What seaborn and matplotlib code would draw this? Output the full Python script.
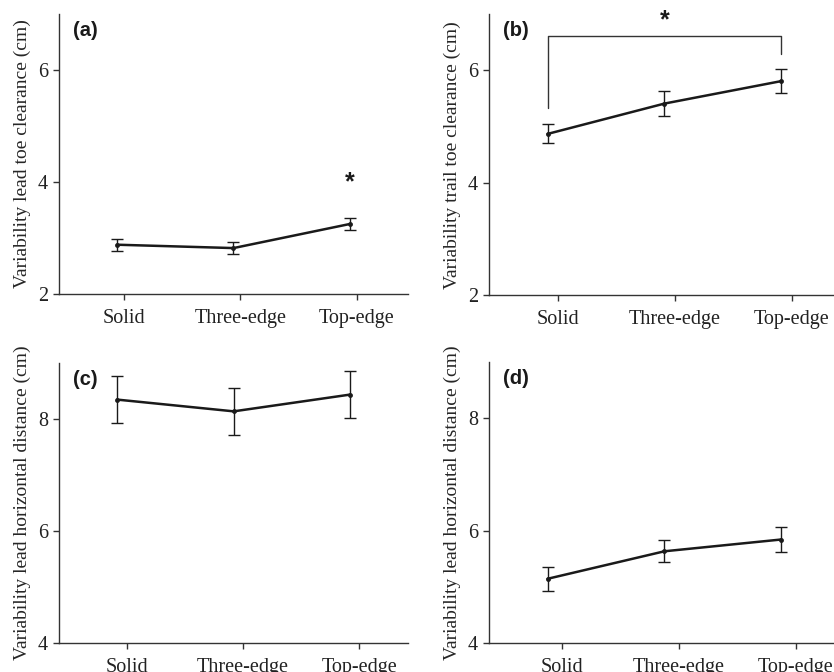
import matplotlib
matplotlib.use("Agg")
import matplotlib.pyplot as plt
import seaborn as sns
import pandas as pd
import numpy as np

conditions = ["Solid", "Three-edge", "Top-edge"]

lead_toe_mean = [2.88, 2.82, 3.25]
lead_toe_err = [0.11, 0.10, 0.11]

trail_toe_mean = [4.87, 5.41, 5.81]
trail_toe_err = [0.17, 0.22, 0.22]

lead_horiz_c_mean = [8.35, 8.14, 8.44]
lead_horiz_c_err = [0.42, 0.42, 0.42]

lead_horiz_d_mean = [5.14, 5.63, 5.84]
lead_horiz_d_err = [0.21, 0.20, 0.22]

sns.set_theme(style="ticks")
plt.rcParams["font.family"] = ["Liberation Serif", "DejaVu Serif"]

fig = plt.figure(figsize=(8.34, 6.72), dpi=100)

panels = [
    # label, mean, err, ylabel, ylim, yticks, axes rect, tick offset
    ("(a)", lead_toe_mean, lead_toe_err, "Variability lead toe clearance (cm)",
     (2, 7), [2, 4, 6], [0.0707, 0.5625, 0.4185, 0.4167], 0.06),
    ("(b)", trail_toe_mean, trail_toe_err, "Variability trail toe clearance (cm)",
     (2, 7), [2, 4, 6], [0.5867, 0.561, 0.42, 0.4177], 0.09),
    ("(c)", lead_horiz_c_mean, lead_horiz_c_err, "Variability lead horizontal distance (cm)",
     (4, 9), [4, 6, 8], [0.0707, 0.0436, 0.419, 0.4158], 0.08),
    ("(d)", lead_horiz_d_mean, lead_horiz_d_err, "Variability lead horizontal distance (cm)",
     (4, 9), [4, 6, 8], [0.5867, 0.0436, 0.42, 0.4173], 0.125),
]

line_color = "#1a1a1a"
axes = []
for label, mean, err, ylabel, ylim, yticks, rect, offs in panels:
    ax = fig.add_axes(rect)
    pos = np.arange(len(conditions))
    df = pd.DataFrame({"pos": pos, "value": mean, "err": err})
    sns.lineplot(data=df, x="pos", y="value", ax=ax, color=line_color,
                 linewidth=1.8, marker="o", markersize=3.5,
                 markeredgewidth=0, zorder=3)
    ax.errorbar(df["pos"], df["value"], yerr=df["err"], fmt="none",
                ecolor=line_color, elinewidth=1.0, capsize=4, capthick=1.0,
                zorder=2)
    ax.set_xlim(-0.5, 2.5)
    ax.set_ylim(*ylim)
    ax.set_xticks(pos + offs)
    ax.set_xticklabels(conditions, fontsize=14.5)
    ax.set_yticks(yticks)
    ax.set_yticklabels([str(t) for t in yticks], fontsize=14.5)
    ax.set_xlabel("")
    ax.set_ylabel(ylabel, fontsize=14, labelpad=5)
    ax.tick_params(axis="both", direction="out", length=4, width=1.0,
                   color="#333333", pad=4, labelcolor="#222222")
    ax.tick_params(axis="x", pad=7)
    sns.despine(ax=ax)
    for side in ["left", "bottom"]:
        ax.spines[side].set_color("#333333")
        ax.spines[side].set_linewidth(1.0)
    ax.text(0.04, 0.975, label, transform=ax.transAxes, fontsize=14.5,
            fontweight="bold", family=["Liberation Sans", "DejaVu Sans"],
            va="top", ha="left", color="#1a1a1a")
    axes.append(ax)

# significance markers
ax_a = axes[0]
ax_a.text(2, 4.0, "*", ha="center", va="center", fontsize=18,
          fontweight="bold", family=["Liberation Sans", "DejaVu Sans"],
          color="#1a1a1a")

ax_b = axes[1]
ax_b.plot([0, 0, 2, 2], [5.34, 6.62, 6.62, 6.29], color="#333333",
          linewidth=1.0, clip_on=False)
ax_b.text(1, 6.9, "*", ha="center", va="center", fontsize=18,
          fontweight="bold", family=["Liberation Sans", "DejaVu Sans"],
          color="#1a1a1a", clip_on=False)

fig.savefig("out.png", dpi=100)
